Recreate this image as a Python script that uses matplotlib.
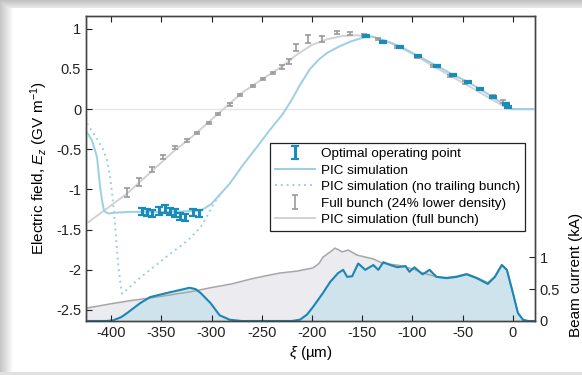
import matplotlib
matplotlib.use("Agg")
import matplotlib.pyplot as plt
import numpy as np
from matplotlib.ticker import FuncFormatter

plt.rcParams['font.family'] = ['Liberation Sans', 'DejaVu Sans']
plt.rcParams['mathtext.fontset'] = 'custom'
plt.rcParams['mathtext.rm'] = 'Liberation Sans'
plt.rcParams['mathtext.it'] = 'Liberation Sans:italic'
plt.rcParams['axes.unicode_minus'] = False

# PIC simulation, E_z (GV/m) vs xi (um)
pic_xi = [-425, -419, -414, -411, -409, -407, -403, -395, -380, -360, -340, -320, -310,
          -300, -295, -282, -269, -255, -242, -229, -220, -212, -202, -193, -185, -173,
          -162, -147, -140, -129, -112, -94, -76, -60, -45, -33, -20, -8, 0, 22]
pic_ez = [-0.27, -0.39, -0.6, -0.97, -1.14, -1.27, -1.3, -1.29, -1.28, -1.28, -1.28, -1.27, -1.26,
          -1.18, -1.11, -0.93, -0.7, -0.475, -0.26, -0.06, 0.12, 0.3, 0.5, 0.62, 0.7, 0.78,
          0.84, 0.9, 0.905, 0.86, 0.78, 0.66, 0.54, 0.43, 0.34, 0.25, 0.15, 0.05, 0.0, 0.0]

# PIC simulation without trailing bunch
notrail_xi = [-424, -415, -408, -404, -401, -399, -397, -393, -390, -389, -380, -371,
              -344, -324, -311, -303, -297, -290]
notrail_ez = [-0.18, -0.35, -0.5, -0.64, -0.85, -1.05, -1.3, -1.93, -2.25, -2.3, -2.2, -2.1,
              -1.83, -1.64, -1.475, -1.3, -1.16, -1.04]

# PIC simulation, full bunch
full_xi = [-425, -400, -384, -360, -340, -320, -300, -290, -270, -250, -230, -215, -200,
           -185, -170, -155, -140, -120, -100, -80, -60, -40, -25, -10, -3, 22]
full_ez = [-1.43, -1.2, -1.05, -0.78, -0.55, -0.35, -0.13, -0.02, 0.2, 0.37, 0.53, 0.68, 0.8,
           0.87, 0.91, 0.92, 0.9, 0.82, 0.69, 0.54, 0.40, 0.26, 0.15, 0.04, 0.0, 0.0]

# optimal operating point measurements
opt_xi = [-369, -364, -359, -352, -346, -341, -336, -331, -326, -318, -313,
          -146, -129, -112, -94.5, -76, -60, -45, -33, -20, -7, -5]
opt_ez = [-1.275, -1.29, -1.3, -1.275, -1.25, -1.275, -1.29, -1.34, -1.35, -1.29, -1.3,
          0.91, 0.84, 0.775, 0.66, 0.54, 0.425, 0.34, 0.25, 0.15, 0.06, 0.025]
opt_err = [0.045, 0.045, 0.045, 0.05, 0.05, 0.045, 0.05, 0.045, 0.045, 0.045, 0.045,
           0.012, 0.012, 0.012, 0.012, 0.012, 0.012, 0.012, 0.012, 0.012, 0.012, 0.012]

# full bunch measurements (24% lower density)
fb_xi = [-384, -372, -359, -348, -336, -324, -314, -303, -294, -282, -272, -259, -249,
         -239, -230, -223, -216, -204, -190, -175, -162, -148, -134, -115, -95, -80,
         -63, -48, -33, -20, -10]
fb_ez = [-1.04, -0.91, -0.75, -0.60, -0.475, -0.39, -0.30, -0.175, -0.06, 0.06, 0.175,
         0.29, 0.375, 0.45, 0.525, 0.59, 0.77, 0.875, 0.875, 0.95, 0.94, 0.92, 0.875,
         0.775, 0.65, 0.54, 0.41, 0.33, 0.25, 0.16, 0.09]
fb_err = [0.06, 0.05, 0.03, 0.025, 0.02, 0.02, 0.015, 0.015, 0.015, 0.02, 0.015, 0.015,
          0.015, 0.012, 0.02, 0.03, 0.04, 0.05, 0.035, 0.02, 0.02, 0.015, 0.015, 0.015,
          0.015, 0.015, 0.015, 0.015, 0.015, 0.015, 0.02]

# beam current (kA), full bunch
cur_full_xi = [-425, -400, -380, -361, -340, -320, -301, -280, -260, -245, -232, -215,
               -199, -193, -189, -182, -177, -172, -170, -164, -155, -147, -139, -129,
               -115, -99, -90, -80, -76, -66, -56, -46, -36, -25, -18, -11, -6, 0, 5,
               10, 15, 22]
cur_full = [0.2, 0.27, 0.32, 0.36, 0.41, 0.46, 0.52, 0.58, 0.66, 0.71, 0.75, 0.78,
            0.83, 0.9, 1.0, 1.08, 1.14, 1.1, 1.08, 1.11, 1.03, 1.0, 0.97, 0.9,
            0.875, 0.81, 0.75, 0.71, 0.69, 0.68, 0.7, 0.74, 0.68, 0.6, 0.69, 0.88,
            0.8, 0.44, 0.125, 0.02, 0.0, 0.0]

# beam current (kA), drive + trailing bunch
cur_xi = [-425, -405, -398, -390, -384, -371, -361, -344, -330, -322, -316, -311, -301,
          -292, -282, -270, -220, -212, -205, -199, -189, -182, -174, -169, -165, -160,
          -154, -147, -139, -134, -129, -122, -115, -107, -103, -98, -90, -83, -76,
          -66, -56, -46, -36, -25, -18, -11, -6, 0, 5, 10, 15, 22]
cur = [0.0, 0.0, 0.01, 0.06, 0.125, 0.28, 0.375, 0.44, 0.49, 0.52, 0.5, 0.44, 0.28,
       0.09, 0.02, 0.0, 0.0, 0.02, 0.1, 0.22, 0.44, 0.61, 0.75, 0.8, 0.69, 0.7,
       0.9, 0.8, 0.875, 0.8, 0.92, 0.875, 0.84, 0.86, 0.77, 0.84, 0.73, 0.8, 0.69,
       0.67, 0.69, 0.73, 0.67, 0.58, 0.69, 0.875, 0.8, 0.44, 0.125, 0.02, 0.0, 0.0]

light_blue = '#9ccfe4'
dark_blue = '#1a8cbc'
grey_pts = '#9a9a9a'
grey_line = '#d2d2d2'

fig = plt.figure(figsize=(5.82, 3.75), dpi=100)
fig.patch.set_facecolor('white')

# drop shadow around the panel
bg = fig.add_axes([0, 0, 1, 1], zorder=-10)
shade = np.ones((375, 582))
shade[:, :14] = np.minimum(shade[:, :14], np.linspace(0.78, 1.0, 14)[None, :])
shade[:8, :] = np.minimum(shade[:8, :], np.linspace(0.76, 0.9, 8)[:, None])
shade[372:, :] = 0.88
bg.imshow(shade, cmap='gray', vmin=0, vmax=1, aspect='auto', interpolation='bilinear')
bg.axis('off')

ax = fig.add_axes([86 / 582, 54 / 375, 449 / 582, 305 / 375])
ax2 = ax.twinx()
ax.set_zorder(ax2.get_zorder() + 1)
ax.patch.set_visible(False)

# beam current
ax2.fill_between(cur_full_xi, cur_full, color='#ebebf0', lw=0)
ax2.plot(cur_full_xi, cur_full, color='#a6a6a6', lw=1.1)
ax2.fill_between(cur_xi, cur, color='#cfe3ed', lw=0)
ax2.plot(cur_xi, cur, color='#1a86b3', lw=1.5)
ax2.set_ylim(0, 4.77)
ax2.set_yticks([0, 0.5, 1])
ax2.yaxis.set_major_formatter(FuncFormatter(lambda v, p: f'{v:g}'))
ax2.tick_params(axis='y', direction='in', length=4, labelsize=10.5, colors='#222222')
ax2.set_ylabel('Beam current (kA)', fontsize=11)
ax2.yaxis.set_label_coords(1.075, 0.15)

# electric field
ax.axhline(0, color='#e6e6e6', lw=1, zorder=0)
h_full, = ax.plot(full_xi, full_ez, color=grey_line, lw=1.4)
h_notrail, = ax.plot(notrail_xi, notrail_ez, color=light_blue, lw=1.4, ls=(0, (1, 2)))
h_pic, = ax.plot(pic_xi, pic_ez, color=light_blue, lw=1.4)
h_fb = ax.errorbar(fb_xi, fb_ez, yerr=fb_err, fmt='none', ecolor=grey_pts,
                   elinewidth=1.2, capsize=2.5, capthick=1.2)
h_opt = ax.errorbar(opt_xi, opt_ez, yerr=opt_err, fmt='none', ecolor=dark_blue,
                    elinewidth=2.2, capsize=3, capthick=1.6)

ax.set_xlim(-425, 22)
ax.set_ylim(-2.64, 1.16)
ax.set_xticks([-400, -350, -300, -250, -200, -150, -100, -50, 0])
ax.set_yticks([1, 0.5, 0, -0.5, -1, -1.5, -2, -2.5])
ax.yaxis.set_major_formatter(FuncFormatter(lambda v, p: f'{v:g}'))
ax.tick_params(direction='in', length=4, labelsize=10.5, top=True, colors='#222222')
for a in (ax, ax2):
    for s in a.spines.values():
        s.set_color('#444444')
        s.set_linewidth(1)

ax.set_ylabel('Electric field, $E_z$ (GV m$^{-1}$)', fontsize=11, labelpad=4)
ax.set_xlabel(r'$\xi$ (µm)', fontsize=11, labelpad=3)

leg = ax.legend([h_opt, h_pic, h_notrail, h_fb, h_full],
                ['Optimal operating point', 'PIC simulation',
                 'PIC simulation (no trailing bunch)', 'Full bunch (24% lower density)',
                 'PIC simulation (full bunch)'],
                loc='upper right', bbox_to_anchor=(525 / 582, 1 - 143 / 375),
                bbox_transform=fig.transFigure, fontsize=9.7, frameon=True,
                fancybox=False, edgecolor='#222222', framealpha=1,
                handlelength=3.0, handletextpad=0.45, labelspacing=0.3,
                borderpad=0.35, borderaxespad=0)
leg.get_frame().set_linewidth(0.9)

fig.savefig('out.png', dpi=100)
